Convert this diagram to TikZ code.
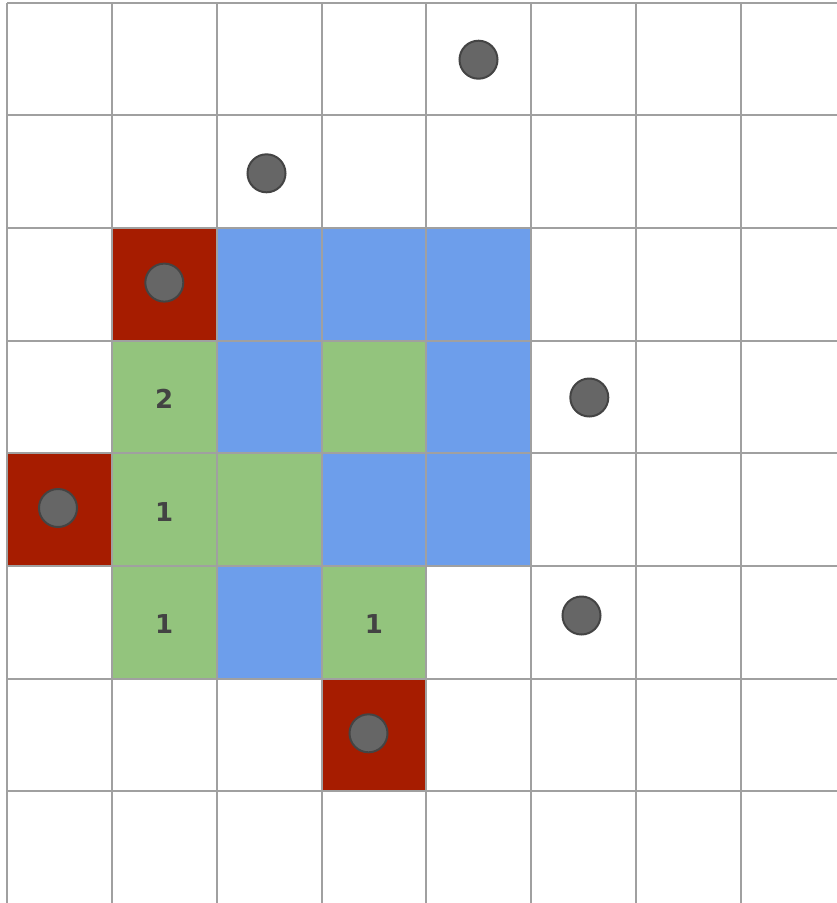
\documentclass[tikz,border=0pt]{standalone}
\usepackage{fontspec}
\setmainfont{DejaVu Sans}
\definecolor{gridgray}{HTML}{A0A0A0}
\definecolor{cellred}{HTML}{A61C00}
\definecolor{cellblue}{HTML}{6D9EEB}
\definecolor{cellgreen}{HTML}{93C47D}
\definecolor{dotfill}{HTML}{666666}
\definecolor{dotline}{HTML}{444444}
\definecolor{numtext}{HTML}{434343}
\tikzset{
  gridline/.style={draw=gridgray, line width=2pt},
  dotmark/.style={circle, fill=dotfill, draw=dotline, line width=2pt, minimum size=38pt, inner sep=0pt},
  numlabel/.style={text=numtext, font=\fontsize{26}{26}\selectfont\bfseries, inner sep=0pt}
}
\newcommand{\mycell}[3]{\fill[#3] ({7+#1*104.86},{2.5+#2*112.7}) rectangle ++(104.86,112.7);}
\newcommand{\cellc}[2]{({7+#1*104.86+52.43},{2.5+#2*112.7+58.3})}
\begin{document}
\begin{tikzpicture}[x=1pt,y=-1pt]
\useasboundingbox (0,0) rectangle (837,903);
\fill[white] (0,0) rectangle (837,903);
% coloured cells
\mycell{1}{2}{cellred}
\mycell{2}{2}{cellblue}
\mycell{3}{2}{cellblue}
\mycell{4}{2}{cellblue}
\mycell{1}{3}{cellgreen}
\mycell{2}{3}{cellblue}
\mycell{3}{3}{cellgreen}
\mycell{4}{3}{cellblue}
\mycell{0}{4}{cellred}
\mycell{1}{4}{cellgreen}
\mycell{2}{4}{cellgreen}
\mycell{3}{4}{cellblue}
\mycell{4}{4}{cellblue}
\mycell{1}{5}{cellgreen}
\mycell{2}{5}{cellblue}
\mycell{3}{5}{cellgreen}
\mycell{3}{6}{cellred}
% grid
\foreach \k in {0,...,7} {
  \draw[gridline] ({7+\k*104.86},2.5) -- ({7+\k*104.86},905);
  \draw[gridline] (7,{2.5+\k*112.7}) -- (840,{2.5+\k*112.7});
}
% numbers
\node[numlabel] (n13) at \cellc{1}{3} {2};
\node[numlabel] (n14) at \cellc{1}{4} {1};
\node[numlabel] (n15) at \cellc{1}{5} {1};
\node[numlabel] (n35) at \cellc{3}{5} {1};
% dots
\node[dotmark] (d1) at (478.5,59.7) {};
\node[dotmark] (d2) at (266.5,173.3) {};
\node[dotmark] (d3) at (164.3,282.6) {};
\node[dotmark] (d4) at (589.3,397.5) {};
\node[dotmark] (d5) at (58,508) {};
\node[dotmark] (d6) at (581.5,615.5) {};
\node[dotmark] (d7) at (368.5,733.3) {};
\end{tikzpicture}
\end{document}
